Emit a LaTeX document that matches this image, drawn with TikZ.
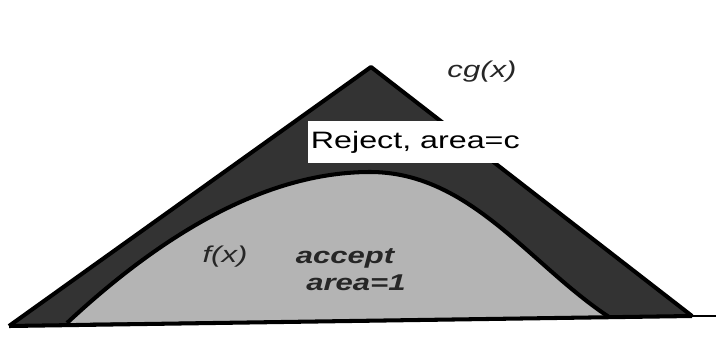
\documentclass[tikz,border=0pt]{standalone}
\usepackage{fontspec}
\setmainfont{Liberation Sans}
\usepackage{xcolor}
\definecolor{rejectgray}{HTML}{333333}
\definecolor{acceptgray}{HTML}{B4B4B4}
\definecolor{labelgray}{HTML}{262626}
\tikzset{
  curveline/.style={line width=2.3pt, line join=round},
  lbl/.style={text=labelgray, xscale=1.36, inner sep=0pt, font=\fontsize{13}{15}\selectfont\itshape},
  boldlbl/.style={lbl, font=\fontsize{13}{15}\selectfont\bfseries\itshape}
}
\begin{document}
\begin{tikzpicture}[x=0.02cm, y=-0.02cm]
        \useasboundingbox (0,0) rectangle (716,341);
        \coordinate (apex) at (371,67);
        \coordinate (gleft) at (9,326);
        \coordinate (gright) at (692,316);
        \coordinate (fleft) at (67,323);
        \coordinate (fpeak) at (370,172);
        \coordinate (fright) at (609,317);
        \coordinate (tail) at (716,316);
        % envelope cg(x)
        \fill[rejectgray] (gleft)--(apex)--(gright)--cycle;
        % density f(x)
        \fill[acceptgray] (fleft) .. controls (140,255) and (250,172) .. (fpeak)
              .. controls (470,172) and (530,265) .. (fright) -- cycle;
        \draw[curveline] (fleft) .. controls (140,255) and (250,172) .. (fpeak)
              .. controls (470,172) and (530,265) .. (fright);
        \draw[curveline] (gleft)--(apex)--(gright);
        \draw[curveline] (gleft)--(gright);
        \draw[line width=1pt] (gright)--(tail);
        \node[fill=white, anchor=west, xscale=1.36, inner xsep=1pt, inner ysep=0pt,
              minimum height=23.8pt, font=\fontsize{13.5}{15}\selectfont]
              (reject) at (308,142) {Reject, area=c\hspace{24pt}};
        \node[lbl] (glabel) at (482,72) {cg(x)};
        \node[lbl] (flabel) at (225,257) {f(x)};
        \node[boldlbl] (accept) at (345,258) {accept};
        \node[boldlbl] (area) at (356,283) {area=1};
    \end{tikzpicture}
\end{document}
